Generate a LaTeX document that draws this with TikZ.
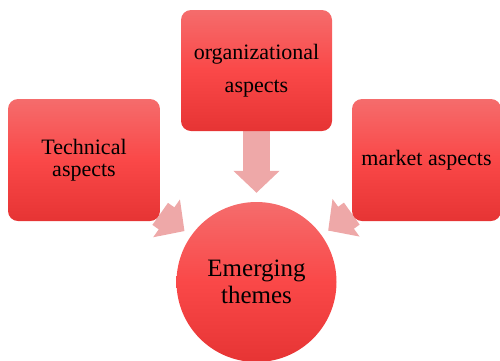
\documentclass[tikz,border=0pt]{standalone}
\usepackage{fontspec}
\setmainfont{Liberation Serif}
\newfontfamily\boxfont{Liberation Serif}
\usetikzlibrary{arrows.meta,backgrounds}
\definecolor{redtop}{RGB}{245,108,108}
\definecolor{redmid}{RGB}{250,72,72}
\definecolor{redbot}{RGB}{230,52,52}
\definecolor{arrowpink}{RGB}{238,168,168}
\tikzset{
  aspect/.style={rectangle, rounded corners=10pt, minimum width=152pt,
    minimum height=122pt, inner sep=0pt, align=center,
    top color=redtop, bottom color=redbot, middle color=redmid,
    font=\boxfont\fontsize{22}{22}\selectfont},
  theme/.style={circle, minimum size=160pt, inner sep=0pt, align=center,
    top color=redtop, bottom color=redbot, middle color=redmid,
    font=\boxfont\fontsize{25}{27}\selectfont},
  flow/.style={line width=27pt, arrowpink,
    -{Triangle[width=45pt,length=22pt]}, shorten >=8pt}
}
\begin{document}
\begin{tikzpicture}[x=1pt,y=-1pt]
\useasboundingbox (0,0) rectangle (500,360);
% Aspects
\node[aspect] (tech) at (84,160) {Technical\\aspects};
\node[aspect, minimum width=151pt, minimum height=121pt,
    font=\boxfont\fontsize{22}{33}\selectfont] (org) at (256.5,70.5)
    {organizational\\aspects};
\node[aspect, minimum width=149pt] (market) at (426.5,160) {market aspects};
% Theme
\node[theme] (emerg) at (256.5,282) {Emerging\\themes};
% Block arrows behind the boxes
\begin{pgfonlayer}{background}
\draw[flow] (tech) -- (emerg);
\draw[flow, shorten >=9pt] (org) -- (emerg);
\draw[flow] (market) -- (emerg);
\end{pgfonlayer}
\end{tikzpicture}
\end{document}
